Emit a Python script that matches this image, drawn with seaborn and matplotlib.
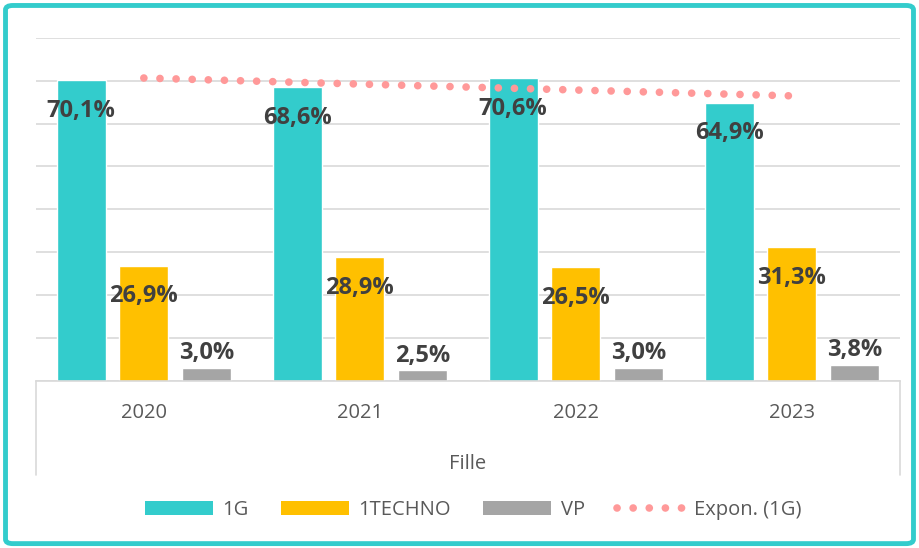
import numpy as np
import pandas as pd
import matplotlib.pyplot as plt
from matplotlib.patches import Patch, FancyBboxPatch
from matplotlib.lines import Line2D
import seaborn as sns

YEARS = ["2020", "2021", "2022", "2023"]
SERIES = ["1G", "1TECHNO", "VP"]
VAL_1G = [70.1, 68.6, 70.6, 64.9]
VAL_TECHNO = [26.9, 28.9, 26.5, 31.3]
VAL_VP = [3.0, 2.5, 3.0, 3.8]
COLORS = ["#33CCCC", "#FFC000", "#A5A5A5"]
TREND_COLOR = "#FF9999"
TEXT_DARK = "#404040"
TEXT_GREY = "#595959"
DOTS = (0, (0.01, 2.1))

sns.set_style("white")
plt.rcParams["font.family"] = ["Open Sans", "DejaVu Sans"]

df = pd.DataFrame({
    "year": YEARS * 3,
    "serie": [s for s in SERIES for _ in YEARS],
    "value": VAL_1G + VAL_TECHNO + VAL_VP,
})

fig = plt.figure(figsize=(9.19, 5.48), dpi=100)
ax = fig.add_axes([0.039, 0.305, 0.940, 0.626])

sns.barplot(data=df, x="year", y="value", hue="serie", palette=COLORS,
            width=0.87, gap=0.22, ax=ax, legend=False, saturation=1)

# exponential trend of 1G (same as the Excel "Expon." trendline)
xs = np.arange(len(VAL_1G))
b, a = np.polyfit(xs + 1, np.log(VAL_1G), 1)
trend = np.exp(a + b * (xs + 1))
ax.plot(xs, trend, color=TREND_COLOR, linewidth=5.5,
        linestyle=DOTS, dash_capstyle="round", zorder=4)

# labels
for k, cont in enumerate(ax.containers):
    for bar, v in zip(cont, df[df.serie == SERIES[k]]["value"]):
        cx = bar.get_x() + bar.get_width() / 2
        if k < 2:
            y, va = v - 7.2, "center"
        else:
            y, va = v + 0.6, "bottom"
        ax.text(cx, y, f"{v:.1f}%".replace(".", ","), ha="center", va=va,
                fontsize=17, fontweight="bold", color=TEXT_DARK, zorder=5)

ax.set_ylim(0, 80)
ax.set_xlim(-0.5, 3.5)
ax.set_yticks(np.arange(0, 81, 10))
ax.set_yticklabels([])
ax.yaxis.grid(True, color="#D9D9D9", linewidth=1.2)
ax.set_axisbelow(True)
ax.tick_params(axis="x", length=0, pad=16, labelsize=14.5, labelcolor=TEXT_GREY)
ax.tick_params(axis="y", length=0)
ax.set_xlabel("Fille", fontsize=14.5, color=TEXT_GREY, labelpad=22)
ax.set_ylabel("")
for side in ["left", "right", "top"]:
    ax.spines[side].set_visible(False)
ax.spines["bottom"].set_color("#D9D9D9")
ax.spines["bottom"].set_linewidth(1.2)

# category axis side lines
for xpos in [0, 1]:
    ax.plot([xpos, xpos], [0, -0.275], transform=ax.transAxes, clip_on=False,
            color="#D9D9D9", linewidth=1.2)

handles = [Patch(facecolor=c, edgecolor="none") for c in COLORS]
handles.append(Line2D([0], [0], color=TREND_COLOR, linewidth=5.5,
                      linestyle=DOTS, dash_capstyle="round"))
fig.legend(handles, SERIES + ["Expon. (1G)"], loc="center", bbox_to_anchor=(0.515, 0.069),
           ncol=4, frameon=False, fontsize=14.5, labelcolor=TEXT_GREY,
           handlelength=3.4, handleheight=0.7, columnspacing=1.6, handletextpad=0.45)

# teal frame around the chart
frame = FancyBboxPatch((0.006, 0.008), 0.988, 0.982, boxstyle="round,pad=0,rounding_size=0.008",
                       transform=fig.transFigure, facecolor="none", edgecolor="#33CCCC",
                       linewidth=3.5)
fig.add_artist(frame)

fig.savefig("out.png", dpi=100)
